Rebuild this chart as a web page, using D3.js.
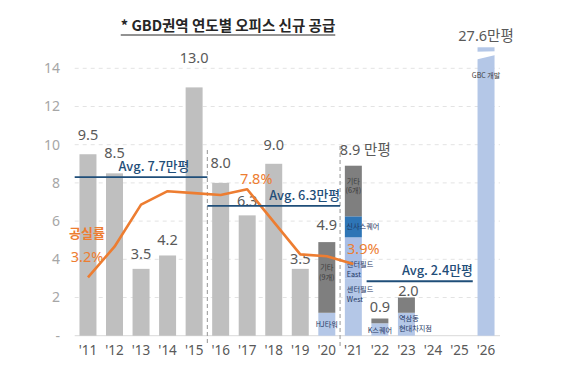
<!DOCTYPE html>
<html><head><meta charset="utf-8">
<script src="https://cdn.jsdelivr.net/npm/d3@7"></script>
<style>
body{margin:0;background:#fff}
svg{display:block}
text{font-family:"Noto Sans CJK KR","Noto Sans",sans-serif}
</style>
</head><body>
<svg id="c" width="576" height="368"></svg>
<script>
// ---- data ----
const years = ["'11","'12","'13","'14","'15","'16","'17","'18","'19","'20","'21","'22","'23","'24","'25","'26"];
const supplyTotals = [9.5,8.5,3.5,4.2,13.0,8.0,6.3,9.0,3.5,4.9,8.9,0.9,2.0,0,0,27.6];
const totalLabels = ["9.5","8.5","3.5","4.2","13.0","8.0","6.3","9.0","3.5","4.9","8.9 만평","0.9","2.0","","","27.6만평"];
const yTicks = [0,2,4,6,8,10,12,14];
const yTickLabels = ["-","2","4","6","8","10","12","14"];

const stackYears = ["'20","'21","'22","'23"];
const stackBase = [1.2,3.0,0.65,1.2];      // HJ타워 / 센터필드 West / K스퀘어 / 역삼동 현대차지점
const stackEast = [0,2.15,0,0];            // 센터필드 East
const stackSinsa = [0,1.1,0,0];            // 신사스퀘어
const stackOthers = [3.7,2.65,0.25,0.8];   // 기타
const baseLabels = [["HJ타워"],["센터필드","West"],["K스퀘어"],["역삼동","현대차지점"]];
const othersLabels = [["기타","(9개)"],["기타","(6개)"],[],[]];

const gbcYear = "'26";
const gbcLabel = "GBC 개발";

const vacancyYears = ["'11","'12","'13","'14","'15","'16","'17","'18","'19","'20","'21"];
const vacancyRates = [3.2,4.8,7.0,7.7,7.6,7.5,7.8,6.1,4.4,4.3,3.9];

const avgValues = [7.7,6.3,2.4];
const avgLevels = [8.3,6.8,2.85];
const avgStart = ["'11","'16","'22"];
const avgEnd = ["'15","'20","'25"];

const separatorsAfter = ["'15","'20"];
const title = "* GBD권역 연도별 오피스 신규 공급";

// ---- layout ----
const svg = d3.select("#c");
const C = {gray:"#bfbfbf", dark:"#7f7f7f", light:"#b4c7e7", east:"#a9bee6", blue:"#2e75b6", orange:"#ed7d31", navy:"#1f4e79", text:"#595959"};
const x = d3.scaleBand().domain(years).range([74.7,499.3]).paddingInner(0.36).paddingOuter(0.18);
const y = d3.scaleLinear().domain([0,14]).range([335.7,68.3]);
const y2 = d3.scaleLinear().domain([0,14]).range([338.5,70.7]);
const step = x.step();
const bw = x.bandwidth();
const cx = d => x(d) + bw/2;
const left0 = x(years[0]) - step*0.18, right0 = 500;
// label gap (px above bar top) per year, matching the reference placement
const labelGap = {"'11":14,"'12":15,"'13":10,"'14":10,"'15":24,"'16":14.5,"'17":9,"'18":14,"'19":5,"'20":12,"'21":11,"'22":7,"'23":2};

// title
const t = svg.append("text").attr("x",228).attr("y",31).attr("text-anchor","middle")
  .attr("font-size",14.5).attr("font-weight",700).attr("fill","#262626").text(title);
const tb = t.node().getBBox();
svg.append("line").attr("x1",tb.x).attr("x2",tb.x+tb.width).attr("y1",35).attr("y2",35)
  .attr("stroke","#262626").attr("stroke-width",1.2);

// grid
svg.append("g").selectAll("line").data(yTicks.filter(d=>d>0)).join("line")
  .attr("x1",left0).attr("x2",right0).attr("y1",d=>y(d)).attr("y2",d=>y(d))
  .attr("stroke","#e3e3e3").attr("stroke-dasharray","4,4");
svg.append("line").attr("x1",left0).attr("x2",right0).attr("y1",y(0)).attr("y2",y(0)).attr("stroke","#d9d9d9");

// y axis
const ya = svg.append("g").attr("transform","translate(62,0)")
  .call(d3.axisLeft(y).tickValues(yTicks).tickFormat((d,i)=>yTickLabels[i]).tickSize(0).tickPadding(2));
ya.select(".domain").remove();
ya.selectAll("text").attr("font-size",14).attr("fill","#a6a6a6").style("font-family","'Noto Sans',sans-serif");

// x axis
const xa = svg.append("g").attr("transform",`translate(0,${y(0)})`)
  .call(d3.axisBottom(x).tickSize(0).tickPadding(10));
xa.select(".domain").remove();
xa.selectAll("text").attr("font-size",13.5).attr("fill",C.text).style("font-family","'Noto Sans',sans-serif");

// separators
svg.append("g").selectAll("line").data(separatorsAfter).join("line")
  .attr("x1",d=>x(d)+bw+(step-bw)/2).attr("x2",d=>x(d)+bw+(step-bw)/2)
  .attr("y1",(d,i)=>i===0?150:146).attr("y2",346)
  .attr("stroke","#a6a6a6").attr("stroke-width",1.2).attr("stroke-dasharray","4,3");

// plain bars
const plain = years.map((d,i)=>({year:d,v:supplyTotals[i]}))
  .filter(d=>!stackYears.includes(d.year) && d.year!==gbcYear && d.v>0);
svg.append("g").selectAll("rect").data(plain).join("rect")
  .attr("x",d=>x(d.year)).attr("width",bw).attr("y",d=>y(d.v)).attr("height",d=>y(0)-y(d.v))
  .attr("fill",C.gray);

// stacked bars
const segs = [];
stackYears.forEach((yr,i)=>{
  let acc = 0;
  [[stackBase[i],C.light],[stackEast[i],C.east],[stackSinsa[i],C.blue],[stackOthers[i],C.dark]].forEach(([v,c])=>{
    if (v>0) segs.push({year:yr,y0:acc,y1:acc+v,c});
    acc += v;
  });
});
svg.append("g").selectAll("rect").data(segs).join("rect")
  .attr("x",d=>x(d.year)).attr("width",bw).attr("y",d=>y(d.y1)).attr("height",d=>y(d.y0)-y(d.y1))
  .attr("fill",d=>d.c);

// GBC bar with break
const gi = years.indexOf(gbcYear);
const gCap = 15.1;
const gx = x(gbcYear);
svg.append("rect").attr("x",gx).attr("width",bw).attr("y",y(Math.min(supplyTotals[gi],gCap)))
  .attr("height",y(0)-y(Math.min(supplyTotals[gi],gCap))).attr("fill",C.light);
svg.append("polygon").attr("fill","#fff")
  .attr("points",[[gx-2,y(gCap)+4.5],[gx+bw+2,y(gCap)+4],[gx+bw+2,y(gCap)+7.5],[gx-2,y(gCap)+12.5]].map(p=>p.join(",")).join(" "));
svg.append("text").attr("x",cx(gbcYear)).attr("y",78).attr("text-anchor","middle")
  .attr("font-size",7).attr("fill","#404040").text(gbcLabel);

// value labels
const vl = years.map((d,i)=>({year:d,v:supplyTotals[i],t:totalLabels[i]})).filter(d=>d.t);
svg.append("g").selectAll("text").data(vl).join("text")
  .attr("x",d=>d.year==="'21"? x(d.year)-5 : cx(d.year) + (d.year==="'23"?2:0))
  .attr("y",d=>d.year===gbcYear? 41 : y(d.v)-labelGap[d.year])
  .attr("text-anchor",d=>d.year==="'21"?"start":"middle")
  .attr("font-size",14.5).attr("fill",C.text)
  .style("font-family","'Noto Sans','Noto Sans CJK KR',sans-serif")
  .text(d=>d.t);

// stack inner labels
function multiline(g, lines, xpos, ypos, anchor, color){
  const tx = g.append("text").attr("x",xpos).attr("y",ypos).attr("text-anchor",anchor)
    .attr("font-size",7.2).attr("fill",color);
  lines.forEach((l,k)=>tx.append("tspan").attr("x",xpos).attr("dy",k===0?0:9.5).text(l));
}
const lg = svg.append("g");
stackYears.forEach((yr,i)=>{
  const bl = baseLabels[i];
  if (yr==="'20") multiline(lg, bl, cx(yr), y(0)-9, "middle", "#1f3864");
  if (yr==="'21") multiline(lg, bl, x(yr)+2, y(stackBase[i])+14, "start", "#1f3864");
  if (yr==="'22") multiline(lg, bl, cx(yr), y(0)-3, "middle", "#1f3864");
  if (yr==="'23") multiline(lg, bl, x(yr)+1, y(stackBase[i])+8.5, "start", "#1f3864");
  const ol = othersLabels[i];
  const top = stackBase[i]+stackEast[i]+stackSinsa[i]+stackOthers[i];
  if (ol.length) {
    const yy = yr==="'20" ? y(top)+28 : y(top)+18;
    multiline(lg, ol, cx(yr), yy, "middle", "#3a3a3a");
  }
});
// 신사스퀘어, 센터필드 East
const i21 = stackYears.indexOf("'21");
multiline(lg, ["신사스퀘어"], x("'21")+1.5, y(stackBase[i21]+stackEast[i21]+stackSinsa[i21]/2)+2.5, "start", "#1f3864");
multiline(lg, ["센터필드","East"], x("'21")+2, y(stackBase[i21]+stackEast[i21])+30, "start", "#1f3864");

// vacancy line
const vac = vacancyYears.map((d,i)=>({year:d,v:vacancyRates[i]}));
svg.append("path").datum(vac)
  .attr("d", d3.line().x(d=>cx(d.year)).y(d=>y2(d.v)))
  .attr("fill","none").attr("stroke",C.orange).attr("stroke-width",2.6).attr("stroke-linejoin","round");
svg.append("text").attr("x",87).attr("y",238).attr("text-anchor","middle").attr("font-size",13)
  .attr("font-weight",700).attr("fill",C.orange).text("공실률");
const vLab = [
  {i:0, dx:-1, dy:-15, anchor:"middle"},
  {i:6, dx:9, dy:-5, anchor:"middle"},
  {i:10, dx:10, dy:-10, anchor:"middle"}
];
svg.append("g").selectAll("text").data(vLab).join("text")
  .attr("x",d=>cx(vac[d.i].year)+d.dx).attr("y",d=>y2(vac[d.i].v)+d.dy)
  .attr("text-anchor",d=>d.anchor).attr("font-size",14.5).attr("fill",C.orange)
  .style("font-family","'Noto Sans',sans-serif")
  .text(d=>vac[d.i].v.toFixed(1)+"%");

// average lines
const avg = avgValues.map((v,i)=>({v,lvl:avgLevels[i],x1:x(avgStart[i])-(step-bw)/2,x2:x(avgEnd[i])+bw+(step-bw)/2}));
svg.append("g").selectAll("line").data(avg).join("line")
  .attr("x1",d=>d.x1).attr("x2",d=>d.x2).attr("y1",d=>y(d.lvl)).attr("y2",d=>y(d.lvl))
  .attr("stroke",C.navy).attr("stroke-width",1.8);
svg.append("g").selectAll("text").data(avg).join("text")
  .attr("x",(d,i)=>i===0? d.x2-18 : d.x2).attr("y",d=>y(d.lvl)-6)
  .attr("text-anchor","end").attr("font-size",12.8).attr("font-weight",500).attr("fill",C.navy)
  .text(d=>`Avg. ${d.v.toFixed(1)}만평`);
</script>
</body></html>
